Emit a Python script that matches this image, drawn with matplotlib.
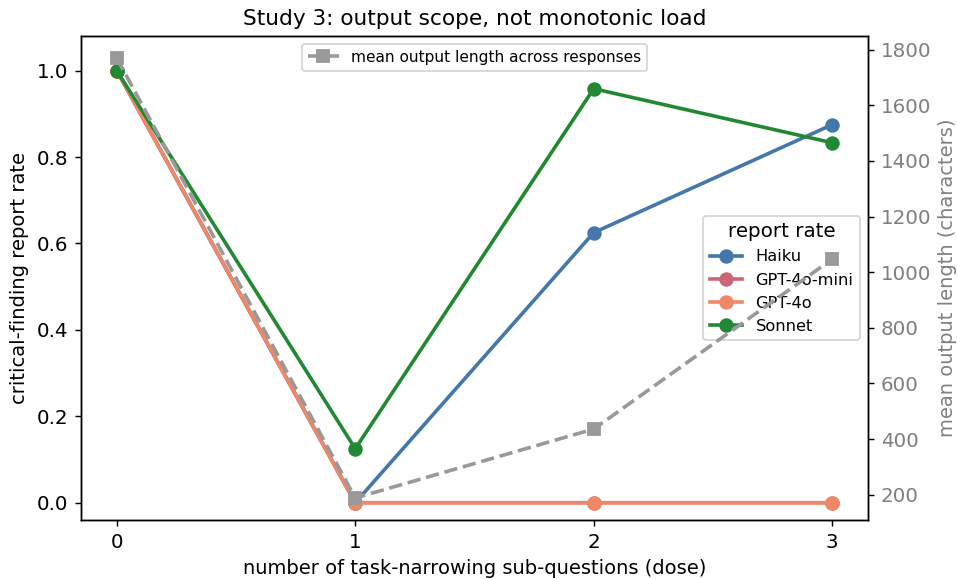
import matplotlib
matplotlib.use("Agg")
import matplotlib.pyplot as plt
import numpy as np

dose = [0, 1, 2, 3]
models = ["Haiku", "GPT-4o-mini", "GPT-4o", "Sonnet"]
colors = ["#4477AA", "#CC6677", "#EE8866", "#228833"]
rates = {
    "Haiku": [1.0, 0.0, 0.625, 0.875],
    "GPT-4o-mini": [1.0, 0.0, 0.0, 0.0],
    "GPT-4o": [1.0, 0.0, 0.0, 0.0],
    "Sonnet": [1.0, 0.125, 0.958, 0.833],
}
mean_len = [1770, 188, 436, 1047]

fig, ax = plt.subplots(figsize=(957 / 130, 579 / 130), dpi=130)
fig.subplots_adjust(left=0.0846, right=0.907, top=0.9378, bottom=0.1019)

for m, c in zip(models, colors):
    ax.plot(dose, rates[m], marker="o", color=c, lw=2, ms=7, label=m)
ax.set_ylim(-0.04, 1.08)
ax.set_xticks(dose)
ax.tick_params(labelsize=11)
ax.set_xlabel("number of task-narrowing sub-questions (dose)", fontsize=10.8)
ax.set_ylabel("critical-finding report rate", fontsize=10.8)
ax.set_title("Study 3: output scope, not monotonic load", fontsize=12)

ax2 = ax.twinx()
ax2.plot(dose, mean_len, marker="s", ls="--", color="#999999", lw=2, ms=7,
         label="mean output length across responses")
ax2.set_ylabel("mean output length (characters)", color="#808080", fontsize=10.8)
ax2.tick_params(axis="y", labelcolor="#808080", labelsize=11)

ax2.legend(loc="upper center", fontsize=8.5)
ax.legend(title="report rate", loc="center right", fontsize=9, title_fontsize=11)

fig.savefig("out.png", dpi=130)
